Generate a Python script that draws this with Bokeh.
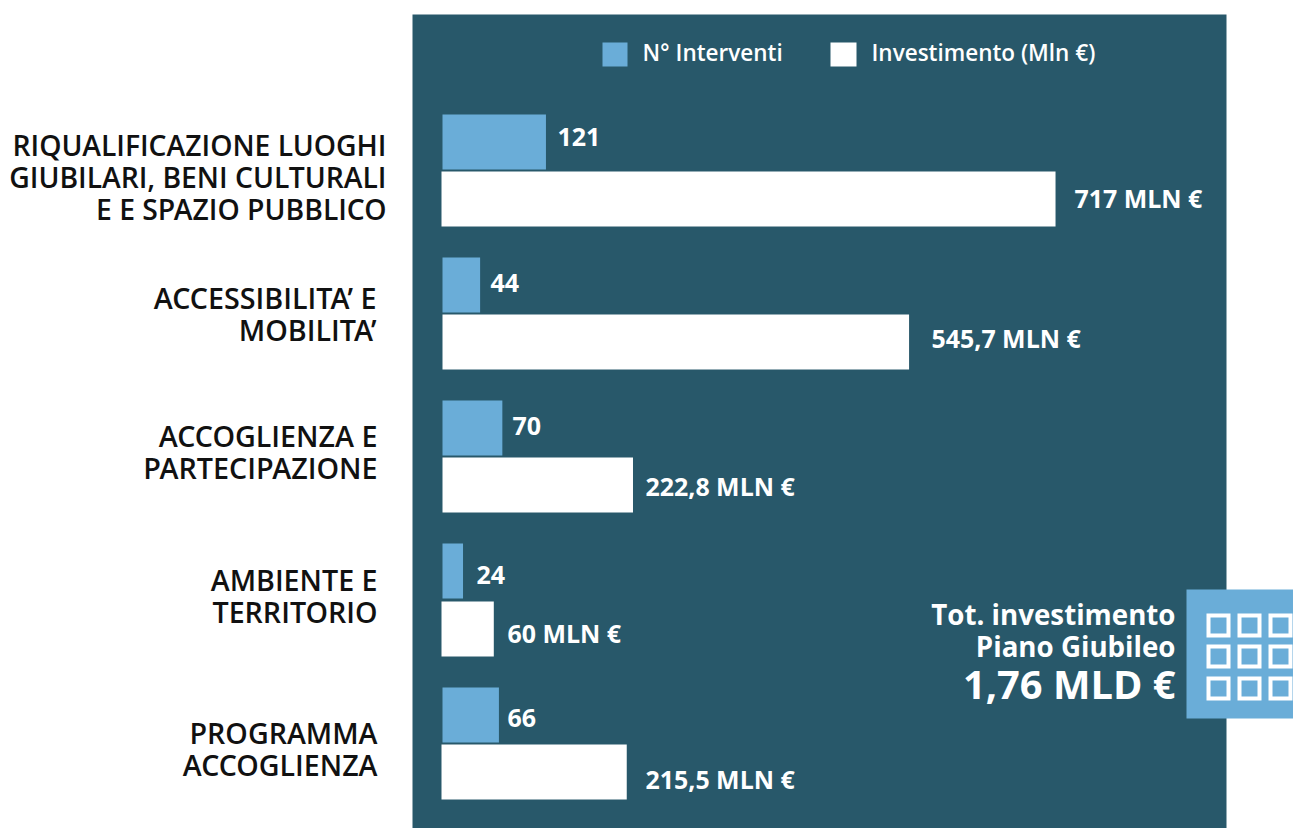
from bokeh.plotting import figure
from bokeh.models import Range1d
from bokeh.core.properties import value
from bokeh.embed import file_html
from bokeh.resources import INLINE

# ---- data ----
interventi = [121, 44, 70, 24, 66]
investimento = [717, 545.7, 222.8, 60, 215.5]
interventi_labels = ["121", "44", "70", "24", "66"]
investimento_labels = ["717 MLN €", "545,7 MLN €", "222,8 MLN €", "60 MLN €", "215,5 MLN €"]
category_lines = [
    ["RIQUALIFICAZIONE LUOGHI", "GIUBILARI, BENI CULTURALI", "E E SPAZIO PUBBLICO"],
    ["ACCESSIBILITA’ E", "MOBILITA’"],
    ["ACCOGLIENZA E", "PARTECIPAZIONE"],
    ["AMBIENTE E", "TERRITORIO"],
    ["PROGRAMMA", "ACCOGLIENZA"],
]
legend_labels = ["N° Interventi", "Investimento (Mln €)"]
total_lines = ["Tot. investimento", "Piano Giubileo", "1,76 MLD €"]

# ---- layout (page pixels) ----
W, H = 1293, 828
OX, OY = 0, 0
X0, PX_PER_UNIT = 442, 0.855
DARK, BLUE = "#28586A", "#6AADD8"
FONT = value("Open Sans")
SEMI = value("Open Sans SemiBold")

p = figure(width=W, height=H, output_backend="svg", toolbar_location=None,
           x_range=Range1d((OX - X0) / PX_PER_UNIT, (OX + W - X0) / PX_PER_UNIT),
           y_range=Range1d(OY + H, OY), min_border=0, outline_line_color=None,
           background_fill_color="white", border_fill_color="white")
p.axis.visible = False
p.grid.visible = False
p.extra_x_ranges["px"] = Range1d(OX, OX + W)

# panel
p.quad(left=[412], right=[1226], top=[14], bottom=[828], x_range_name="px", fill_color=DARK, line_color=None)

# bars, drawn on the shared value scale
blue_top = [114, 257, 400, 543, 687]
white_top = [171, 314, 457, 601, 744]
white_shift = [-1, 0, 0, -1, -1]
BAR_H = 55
p.quad(left=[0] * 5, right=interventi, top=blue_top, bottom=[t + BAR_H for t in blue_top],
       fill_color=BLUE, line_color=None)
p.quad(left=[s / PX_PER_UNIT for s in white_shift], right=investimento, top=white_top,
       bottom=[t + BAR_H for t in white_top], fill_color="white", line_color=None)


def txt(x, y, s, size, align="left", style="bold", font=FONT, color="white"):
    p.text(x=[x], y=[y], text=[s], x_range_name="px", text_font=font, text_font_size=f"{size}px",
           text_font_style=style, text_color=color, text_align=align, text_baseline="middle")


# value labels
n_x = [557, 490, 512, 476, 507]
n_y = [136, 282, 425, 574, 717]
v_x = [1074, 931, 645, 507, 645]
v_y = [197, 337, 485, 632, 778]
for i in range(5):
    txt(n_x[i], n_y[i], interventi_labels[i], 25)
    txt(v_x[i], v_y[i], investimento_labels[i], 24.95)

# category labels
cat_right = [386, 376, 377, 377, 377]
cat_mid = [144, 297, 435, 579, 732]
cat_size = [28.3, 28.7, 28.7, 28.6, 28.6]
for i, lines in enumerate(category_lines):
    for j, line in enumerate(lines):
        txt(cat_right[i], cat_mid[i] + 32 * j, line, cat_size[i], "right", style="normal", font=SEMI, color="#111111")

# legend
p.quad(left=[602, 830], right=[627, 856], top=[42, 42], bottom=[66, 66], x_range_name="px",
       fill_color=[BLUE, "white"], line_color=None)
txt(642, 52, legend_labels[0], 22.5, style="normal", font=SEMI)
txt(871, 52, legend_labels[1], 22.5, style="normal", font=SEMI)

# total
txt(1175, 613, total_lines[0], 27.7, "right")
txt(1175, 645, total_lines[1], 27.7, "right")
txt(1175, 683, total_lines[2], 39.8, "right")

# icon
p.quad(left=[1186], right=[1293], top=[589], bottom=[718], x_range_name="px", fill_color=BLUE, line_color=None)
cols = [1208, 1239, 1270]
rows = [615, 646, 678]
for r in rows:
    for c in cols:
        p.quad(left=[c], right=[c + 20], top=[r], bottom=[r + 20], x_range_name="px",
               fill_color=None, line_color="white", line_width=4, line_join="miter")

open("out.html", "w").write(file_html(p, INLINE))
